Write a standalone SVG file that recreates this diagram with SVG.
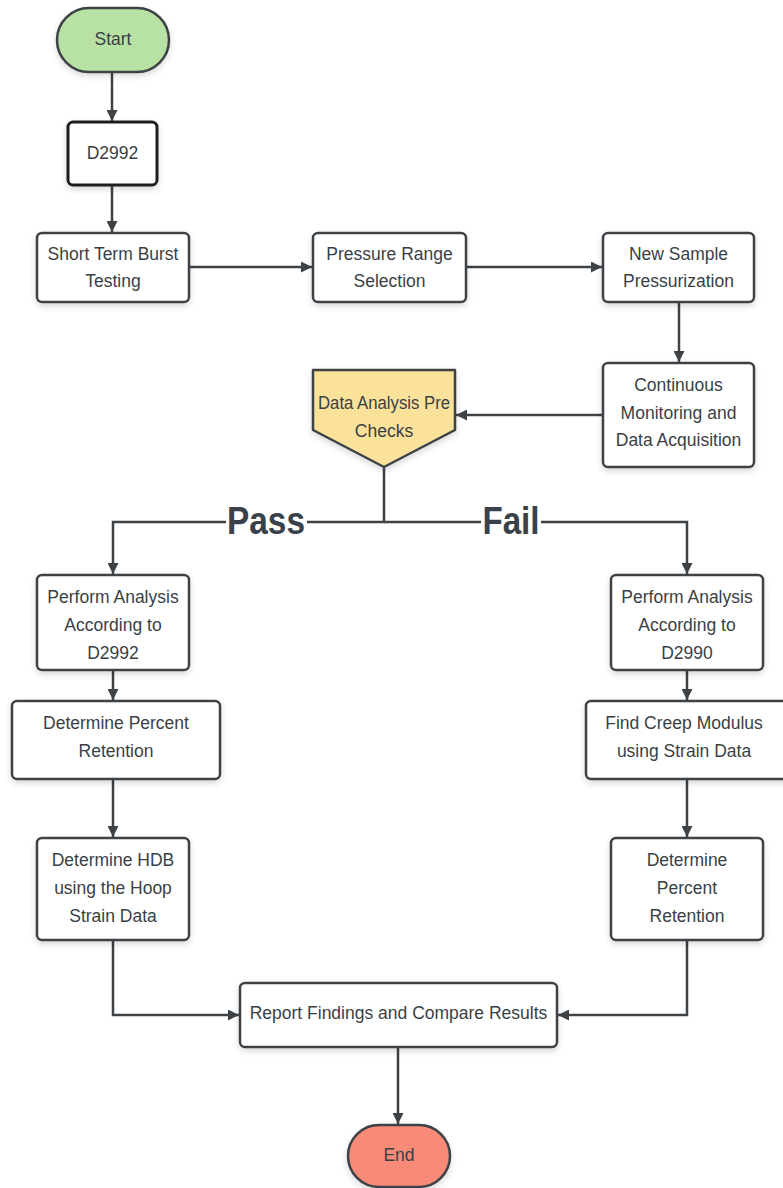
<svg xmlns="http://www.w3.org/2000/svg" width="783" height="1188" viewBox="0 0 783 1188">
<defs>
<style>
.box{fill:#ffffff;stroke:#3d4247;stroke-width:2.5}
.t{font-family:"Liberation Sans",Arial,sans-serif;font-size:17.5px;fill:#3a3f45;text-anchor:middle;dominant-baseline:central}
.big{font-family:"Liberation Sans",Arial,sans-serif;font-weight:bold;font-size:38px;fill:#3a414a;dominant-baseline:alphabetic}
.c{fill:none;stroke:#3d4247;stroke-width:2.5}
</style>
<marker id="ah" viewBox="0 0 10 10" refX="10" refY="5" markerWidth="11" markerHeight="11" markerUnits="userSpaceOnUse" orient="auto">
<path d="M0,0 L10,5 L0,10 z" fill="#3d4247"/>
</marker>
<filter id="sh" x="-10%" y="-10%" width="130%" height="140%">
<feDropShadow dx="0" dy="3" stdDeviation="3" flood-color="#000" flood-opacity="0.15"/>
</filter>
</defs>
<rect width="783" height="1188" fill="#ffffff"/>

<g id="connectors">
<line class="c" x1="112" y1="72" x2="112" y2="121" marker-end="url(#ah)"/>
<line class="c" x1="112" y1="186" x2="112" y2="232" marker-end="url(#ah)"/>
<line class="c" x1="189" y1="267" x2="312" y2="267" marker-end="url(#ah)"/>
<line class="c" x1="466" y1="267" x2="602" y2="267" marker-end="url(#ah)"/>
<line class="c" x1="679" y1="302" x2="679" y2="362" marker-end="url(#ah)"/>
<line class="c" x1="603" y1="415" x2="456" y2="415" marker-end="url(#ah)"/>
<polyline class="c" points="384,467 384,522 307,522"/>
<polyline class="c" points="226,522 113,522 113,574" marker-end="url(#ah)"/>
<polyline class="c" points="384,522 481,522"/>
<polyline class="c" points="541,522 687,522 687,574" marker-end="url(#ah)"/>
<line class="c" x1="113" y1="670" x2="113" y2="700" marker-end="url(#ah)"/>
<line class="c" x1="113" y1="779" x2="113" y2="837" marker-end="url(#ah)"/>
<polyline class="c" points="113,940 113,1015 239,1015" marker-end="url(#ah)"/>
<line class="c" x1="687" y1="670" x2="687" y2="700" marker-end="url(#ah)"/>
<line class="c" x1="687" y1="779" x2="687" y2="837" marker-end="url(#ah)"/>
<polyline class="c" points="687,940 687,1015 558,1015" marker-end="url(#ah)"/>
<line class="c" x1="398" y1="1047" x2="398" y2="1124" marker-end="url(#ah)"/>
<text class="big" x="266" y="534" text-anchor="middle" textLength="78" lengthAdjust="spacingAndGlyphs">Pass</text>
<text class="big" x="511" y="534" text-anchor="middle" textLength="57" lengthAdjust="spacingAndGlyphs">Fail</text>
</g>

<g id="start">
<rect x="57" y="8" width="112" height="64" rx="32" fill="#b8e2a3" stroke="#3d4247" stroke-width="2.5" filter="url(#sh)"/>
<text class="t" x="113" y="39">Start</text>
</g>

<g id="d2992">
<rect x="68" y="122" width="89" height="63" rx="5" fill="#ffffff" stroke="#1e1f21" stroke-width="3" filter="url(#sh)"/>
<text class="t" x="112.5" y="153">D2992</text>
</g>

<g id="short-term">
<rect class="box" x="37" y="233" width="152" height="69" rx="5" filter="url(#sh)"/>
<text class="t" x="113" y="254">Short Term Burst</text>
<text class="t" x="113" y="281">Testing</text>
</g>

<g id="pressure-range">
<rect class="box" x="313" y="233" width="153" height="69" rx="5" filter="url(#sh)"/>
<text class="t" x="389.5" y="254">Pressure Range</text>
<text class="t" x="389.5" y="281">Selection</text>
</g>

<g id="new-sample">
<rect class="box" x="603" y="233" width="151" height="69" rx="5" filter="url(#sh)"/>
<text class="t" x="678.5" y="254">New Sample</text>
<text class="t" x="678.5" y="281">Pressurization</text>
</g>

<g id="monitoring">
<rect class="box" x="603" y="363" width="151" height="104" rx="5" filter="url(#sh)"/>
<text class="t" x="678.5" y="385">Continuous</text>
<text class="t" x="678.5" y="413">Monitoring and</text>
<text class="t" x="678.5" y="440">Data Acquisition</text>
</g>

<g id="precheck">
<polygon points="313,370 455,370 455,430 384,467 313,430" fill="#fbe29a" stroke="#3d4247" stroke-width="2.5" stroke-linejoin="round" filter="url(#sh)"/>
<text class="t" x="384" y="403" textLength="132" lengthAdjust="spacingAndGlyphs">Data Analysis Pre</text>
<text class="t" x="384" y="431">Checks</text>
</g>

<g id="analysis-d2992">
<rect class="box" x="37" y="575" width="152" height="95" rx="5" filter="url(#sh)"/>
<text class="t" x="113" y="597">Perform Analysis</text>
<text class="t" x="113" y="625">According to</text>
<text class="t" x="113" y="653">D2992</text>
</g>

<g id="retention-left">
<rect class="box" x="12" y="701" width="208" height="78" rx="5" filter="url(#sh)"/>
<text class="t" x="116" y="723">Determine Percent</text>
<text class="t" x="116" y="751">Retention</text>
</g>

<g id="hdb">
<rect class="box" x="37" y="838" width="152" height="102" rx="5" filter="url(#sh)"/>
<text class="t" x="113" y="860">Determine HDB</text>
<text class="t" x="113" y="888">using the Hoop</text>
<text class="t" x="113" y="916">Strain Data</text>
</g>

<g id="analysis-d2990">
<rect class="box" x="611" y="575" width="152" height="95" rx="5" filter="url(#sh)"/>
<text class="t" x="687" y="597">Perform Analysis</text>
<text class="t" x="687" y="625">According to</text>
<text class="t" x="687" y="653">D2990</text>
</g>

<g id="creep">
<rect class="box" x="586" y="701" width="205" height="78" rx="5" filter="url(#sh)"/>
<text class="t" x="684" y="723">Find Creep Modulus</text>
<text class="t" x="684" y="751">using Strain Data</text>
</g>

<g id="retention-right">
<rect class="box" x="611" y="838" width="152" height="102" rx="5" filter="url(#sh)"/>
<text class="t" x="687" y="860">Determine</text>
<text class="t" x="687" y="888">Percent</text>
<text class="t" x="687" y="916">Retention</text>
</g>

<g id="report">
<rect class="box" x="240" y="983" width="317" height="64" rx="5" filter="url(#sh)"/>
<text class="t" x="398.5" y="1013">Report Findings and Compare Results</text>
</g>

<g id="end">
<rect x="348" y="1125" width="102" height="62" rx="31" fill="#f88a78" stroke="#3d4247" stroke-width="2.5" filter="url(#sh)"/>
<text class="t" x="399" y="1155">End</text>
</g>
</svg>
